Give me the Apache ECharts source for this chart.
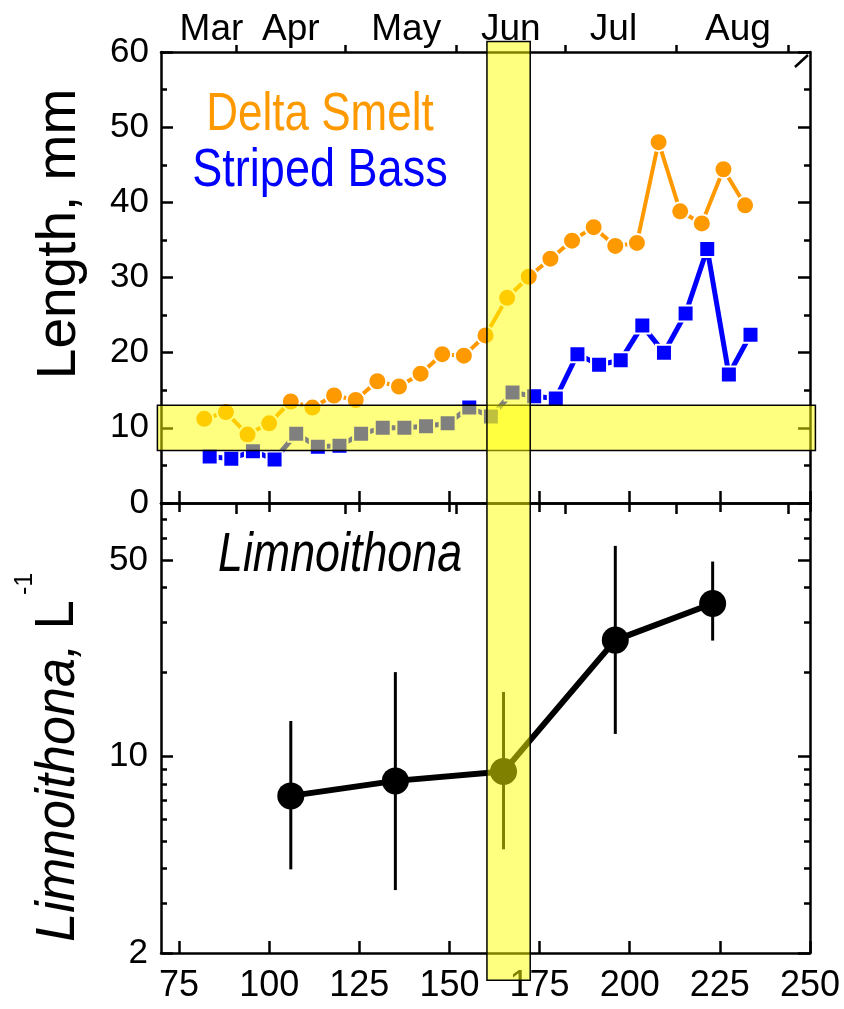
<!DOCTYPE html>
<html><head><meta charset="utf-8">
<script src="https://cdn.jsdelivr.net/npm/echarts@6/dist/echarts.min.js"></script>
<style>html,body{margin:0;padding:0;background:#fff}#c{width:844px;height:1009px}</style>
</head><body><div id="c"></div>
<script>
// ---- data ----
const smeltDay = [82,88,94,100,106,112,118,124,130,136,142,148,154,160,166,172,178,184,190,196,202,208,214,220,226,232];
const smeltLen = [11.2,12.1,9.1,10.6,13.5,12.7,14.3,13.7,16.2,15.5,17.2,19.8,19.6,22.3,27.3,30.1,32.5,34.9,36.7,34.2,34.6,48.0,38.8,37.2,44.4,39.6];
const bassDay = [83.5,89.5,95.5,101.5,107.5,113.5,119.5,125.5,131.5,137.5,143.5,149.5,155.5,161.5,167.5,173.5,179.5,185.5,191.5,197.5,203.5,209.5,215.5,221.5,227.5,233.5];
const bassLen = [6.2,5.9,6.9,5.8,9.2,7.5,7.6,9.2,10.0,10.0,10.2,10.6,12.7,11.5,14.7,14.2,13.9,19.8,18.4,19.0,23.6,20.0,25.2,33.8,17.1,22.4];
const limDay = [106,135,165,196,223];
const limMean = [7.25,8.2,8.85,26.0,35.1];
const limLow = [3.97,3.35,4.68,12.05,25.9];
const limHigh = [13.4,20.0,17.0,56.3,49.5];
const xTicks = [75,100,125,150,175,200,225,250];
const monthTicks = [91,121,152,182,213,244];
const monthLabelPos = [84,106,138,167,195.5,230];
const monthNames = ['Mar','Apr','May','Jun','Jul','Aug'];
const logMajor = [2,10,50];
const logMinor = [3,4,5,6,7,8,9,20,30,40,60,70];
const hBand = [7,13];          // mm
const hBandX = [69,251.5];     // day extent of horizontal band
const vBand = [160.4,172.4];   // day
const vBandTopY = 61.4;        // mm (top panel)
const vBandBotY = 1.6;         // per L (bottom panel)

// ---- helpers ----
const F = 'Liberation Sans, Arial, sans-serif';
const BLK = '#000';
const aLine = {show:true, onZero:false, lineStyle:{color:BLK, width:2.5}};
const noLine = {show:false};
const lbl = (extra) => Object.assign({color:BLK, fontSize:34, fontFamily:F}, extra || {});
function ticks(vals, len, inside) {
  const t = {show:true, inside: inside !== false, length:len, lineStyle:{color:BLK, width:2.5}};
  if (vals) t.customValues = vals;
  return t;
}
const X0 = {type:'value', min:70, max:250, splitLine:{show:false}};
const YL = {type:'log', logBase:10, min:2, max:80, gridIndex:1, splitLine:{show:false}};

const chart = echarts.init(document.getElementById('c'));
const bandStyle = {fill:'rgba(255,255,0,0.5)', stroke:null};
const edge = {stroke:BLK, lineWidth:1.5, fill:null};

chart.setOption({
  animation:false,
  backgroundColor:'#fff',
  grid:[
    {left:161, top:52, right:34, height:451},
    {left:161, top:503, right:34, height:450}
  ],
  xAxis:[
    Object.assign({}, X0, {gridIndex:0, position:'bottom', axisLine:aLine, axisTick:ticks(xTicks,12), axisLabel:{show:false}}),
    Object.assign({}, X0, {gridIndex:0, position:'top', offset:0, axisLine:aLine, axisTick:ticks(monthTicks,7,false),
      axisLabel:lbl({customValues:monthLabelPos, margin:4, fontSize:37, formatter:(v)=>monthNames[monthLabelPos.indexOf(v)]})}),
    Object.assign({}, X0, {gridIndex:0, position:'top', offset:0, axisLine:noLine, axisTick:ticks(monthTicks,11), axisLabel:{show:false}}),
    Object.assign({}, X0, {gridIndex:1, position:'bottom', axisLine:aLine, axisTick:ticks(xTicks,12),
      axisLabel:lbl({customValues:xTicks, margin:15, fontSize:36})}),
    Object.assign({}, X0, {gridIndex:1, position:'top', offset:0, axisLine:aLine, axisTick:ticks(xTicks,9), axisLabel:{show:false}})
  ],
  yAxis:[
    {type:'value', gridIndex:0, position:'left', min:0, max:60, interval:10, splitLine:{show:false},
      axisLine:aLine, axisTick:ticks(null,12), minorTick:{show:true, splitNumber:2, length:6, lineStyle:{color:BLK, width:2.5}},
      axisLabel:lbl({margin:12, fontSize:35})},
    {type:'value', gridIndex:0, position:'right', min:0, max:60, interval:10, splitLine:{show:false},
      axisLine:aLine, axisTick:ticks(null,12), minorTick:{show:true, splitNumber:2, length:6, lineStyle:{color:BLK, width:2.5}},
      axisLabel:{show:false}},
    Object.assign({}, YL, {position:'left', axisLine:aLine, axisTick:ticks(logMajor,12), axisLabel:lbl({customValues:logMajor, margin:13, fontSize:35})}),
    Object.assign({}, YL, {position:'left', axisLine:noLine, axisTick:ticks(logMinor,6), axisLabel:{show:false}}),
    Object.assign({}, YL, {position:'right', axisLine:aLine, axisTick:ticks(logMajor,12), axisLabel:{show:false}}),
    Object.assign({}, YL, {position:'right', axisLine:noLine, axisTick:ticks(logMinor,6), axisLabel:{show:false}})
  ],
  series:[
    {name:'Delta Smelt', type:'line', xAxisIndex:0, yAxisIndex:0, z:3,
      data: smeltDay.map((d,i)=>[d, smeltLen[i]]),
      symbol:'circle', symbolSize:18, showAllSymbol:true,
      itemStyle:{color:'#FF9900', borderColor:'#fff', borderWidth:2},
      lineStyle:{color:'#FF9900', width:4}, emphasis:{disabled:true}},
    {name:'Striped Bass', type:'line', xAxisIndex:0, yAxisIndex:0, z:3,
      data: bassDay.map((d,i)=>[d, bassLen[i]]),
      symbol:'rect', symbolSize:16, showAllSymbol:true,
      itemStyle:{color:'#0000FF', borderColor:'#fff', borderWidth:2},
      lineStyle:{color:'#0000FF', width:5}, emphasis:{disabled:true}},
    {name:'errors', type:'custom', xAxisIndex:3, yAxisIndex:2, z:3,
      data: limDay.map((d,i)=>[d, limLow[i], limHigh[i]]),
      encode:{x:0, y:[1,2]},
      renderItem:(p, api)=>{
        const a = api.coord([api.value(0), api.value(1)]);
        const b = api.coord([api.value(0), api.value(2)]);
        return {type:'line', shape:{x1:a[0], y1:a[1], x2:b[0], y2:b[1]}, style:{stroke:BLK, lineWidth:3}};
      }},
    {name:'Limnoithona', type:'line', xAxisIndex:3, yAxisIndex:2, z:4,
      data: limDay.map((d,i)=>[d, limMean[i]]),
      symbol:'circle', symbolSize:27, itemStyle:{color:BLK}, lineStyle:{color:BLK, width:6}, emphasis:{disabled:true}},
    {name:'hband', type:'custom', xAxisIndex:0, yAxisIndex:0, z:10, silent:true,
      data:[[hBandX[0], hBand[1], hBandX[1], hBand[0]]],
      renderItem:(p, api)=>{
        const a = api.coord([api.value(0), api.value(1)]);
        const b = api.coord([api.value(2), api.value(3)]);
        return {type:'rect', shape:{x:a[0], y:a[1], width:b[0]-a[0], height:b[1]-a[1]},
          style:{fill:'rgba(255,255,0,0.5)', stroke:BLK, lineWidth:1.5}};
      }},
    {name:'vband-top', type:'custom', xAxisIndex:0, yAxisIndex:0, z:10, silent:true,
      data:[[vBand[0], vBandTopY, vBand[1], 0]],
      renderItem:(p, api)=>{
        const a = api.coord([api.value(0), api.value(1)]);
        const b = api.coord([api.value(2), api.value(3)]);
        return {type:'group', children:[
          {type:'rect', shape:{x:a[0], y:a[1], width:b[0]-a[0], height:b[1]-a[1]}, style:bandStyle},
          {type:'polyline', shape:{points:[[a[0],b[1]],[a[0],a[1]],[b[0],a[1]],[b[0],b[1]]]}, style:edge}
        ]};
      }},
    {name:'vband-bot', type:'custom', xAxisIndex:3, yAxisIndex:2, z:10, silent:true,
      data:[[vBand[0], 80, vBand[1], vBandBotY]],
      renderItem:(p, api)=>{
        const a = api.coord([api.value(0), api.value(1)]);
        const b = api.coord([api.value(2), api.value(3)]);
        return {type:'group', children:[
          {type:'rect', shape:{x:a[0], y:a[1], width:b[0]-a[0], height:b[1]-a[1]}, style:bandStyle},
          {type:'polyline', shape:{points:[[a[0],a[1]],[a[0],b[1]],[b[0],b[1]],[b[0],a[1]]]}, style:edge}
        ]};
      }}
  ],
  graphic:[
    {type:'text', x:60, y:234, rotation:Math.PI/2, style:{text:'Length, mm', fill:BLK, fontSize:55, fontFamily:F, align:'center', verticalAlign:'middle'}},
    {type:'text', x:58, y:771, rotation:Math.PI/2, scaleX:0.93, style:{text:'{i|Limnoithona,} {n|L}', fill:BLK, fontSize:56, fontFamily:F, align:'center', verticalAlign:'middle',
      rich:{i:{fontSize:56, fontStyle:'italic', fontFamily:F, fill:BLK}, n:{fontSize:56, fontFamily:F, fill:BLK}}}},
    {type:'text', x:25, y:584, rotation:Math.PI/2, style:{text:'-1', fill:BLK, fontSize:25, fontFamily:F, align:'center', verticalAlign:'middle'}},
    {type:'text', x:320, y:115, scaleX:0.83, style:{text:'Delta Smelt', fill:'#FF9900', fontSize:53, fontFamily:F, align:'center', verticalAlign:'middle'}},
    {type:'text', x:320, y:171, scaleX:0.85, style:{text:'Striped Bass', fill:'#0000FF', fontSize:53, fontFamily:F, align:'center', verticalAlign:'middle'}},
    {type:'text', x:340, y:555, scaleX:0.8, style:{text:'Limnoithona', fill:BLK, fontSize:56, fontStyle:'italic', fontFamily:F, align:'center', verticalAlign:'middle'}},
    {type:'line', shape:{x1:795, y1:67, x2:808, y2:55}, style:{stroke:BLK, lineWidth:2.5}}
  ]
});
</script></body></html>
